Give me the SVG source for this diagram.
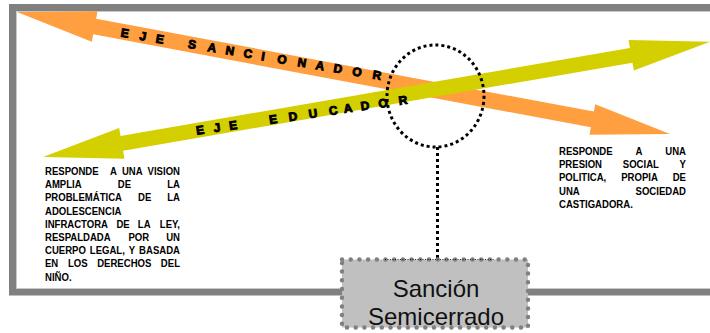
<svg xmlns="http://www.w3.org/2000/svg" width="710" height="333" viewBox="0 0 710 333">
<style>
.frame{fill:none;stroke:#808080;stroke-width:7}
.inner{fill:none;stroke:#c8c8c8;stroke-width:1}
.ax{font-family:"Liberation Sans",Arial,sans-serif;font-weight:bold;font-size:12px;fill:#000;stroke:#000;stroke-width:0.9;text-anchor:middle}
.bt{font-family:"Liberation Sans",Arial,sans-serif;font-weight:bold;font-size:10.4px;fill:#000}
.bx{font-family:"Liberation Sans",Arial,sans-serif;font-size:24px;fill:#111;text-anchor:middle}
.dot{fill:none;stroke:#000;stroke-width:3;stroke-dasharray:3 3}
</style>
<rect width="710" height="333" fill="#fff"/>
<g id="frame">
<path class="frame" d="M710 7.5H12.5V292H342M528 292H710"/>
<path class="inner" d="M710 11.5H16.5V288.5H342M528 288.5H710"/>
</g>
<g id="eje-sancionador">
<polygon transform="translate(17,12) rotate(10.58)" fill="#ff9f3f" points="0,0 79,-15.5 79,-8 585.3,-8 585.3,-15.5 664.3,0 585.3,15.5 585.3,8 79,8 79,15.5"/>
<text class="ax" transform="translate(125,33) rotate(9.46)" y="4.3" x="0 18.2 35.5 51.7 68 88.2 106.5 124.7 139.9 159.2 179.5 197.7 216 235.2 255.5">EJE SANCIONADOR</text>
</g>
<g id="eje-educador">
<polygon transform="translate(43,157) rotate(-9.81)" fill="#d4cf00" points="0,0 80,-15.5 80,-7.5 596.9,-7.5 596.9,-15.5 676.9,0 596.9,15.5 596.9,7.5 80,7.5 80,15.5"/>
<text class="ax" transform="translate(200,130) rotate(-8.4)" y="4.3" x="0 17.2 33.4 53.6 73.8 94 114.2 134.5 149.6 166.8 185 205.2">EJE EDUCADOR</text>
</g>
<g id="connectors">
<ellipse class="dot" cx="435.5" cy="96" rx="48.5" ry="51"/>
<line class="dot" x1="437.5" y1="147" x2="437.5" y2="259"/>
</g>
<g id="texto-educador" transform="scale(0.92 1)">
<text class="bt" y="175"><tspan x="48.91">RESPONDE</tspan><tspan x="119.57">A</tspan><tspan x="132.5">UNA</tspan><tspan x="195.65" text-anchor="end">VISION</tspan></text>
<text class="bt" y="188.2"><tspan x="48.91">AMPLIA</tspan><tspan x="128.04">DE</tspan><tspan x="195.65" text-anchor="end">LA</tspan></text>
<text class="bt" y="201.4"><tspan x="48.91">PROBLEMÁTICA</tspan><tspan x="150">DE</tspan><tspan x="195.65" text-anchor="end">LA</tspan></text>
<text class="bt" y="214.6" x="48.91">ADOLESCENCIA</text>
<text class="bt" y="227.8"><tspan x="48.91">INFRACTORA</tspan><tspan x="126.52">DE</tspan><tspan x="149.78">LA</tspan><tspan x="195.65" text-anchor="end">LEY,</tspan></text>
<text class="bt" y="241"><tspan x="48.91">RESPALDADA</tspan><tspan x="139.67">POR</tspan><tspan x="195.65" text-anchor="end">UN</tspan></text>
<text class="bt" y="254.2"><tspan x="48.91">CUERPO</tspan><tspan x="97.61">LEGAL,</tspan><tspan x="140">Y</tspan><tspan x="195.65" text-anchor="end">BASADA</tspan></text>
<text class="bt" y="267.4"><tspan x="48.91">EN</tspan><tspan x="73.8">LOS</tspan><tspan x="105.65">DERECHOS</tspan><tspan x="195.65" text-anchor="end">DEL</tspan></text>
<text class="bt" y="280.6" x="48.91">NIÑO.</text>
</g>
<g id="texto-sancionador" transform="scale(0.92 1)">
<text class="bt" y="155"><tspan x="607.61">RESPONDE</tspan><tspan x="690.87">A</tspan><tspan x="745.65" text-anchor="end">UNA</tspan></text>
<text class="bt" y="168.2"><tspan x="607.61">PRESION</tspan><tspan x="676.96">SOCIAL</tspan><tspan x="745.65" text-anchor="end">Y</tspan></text>
<text class="bt" y="181.4"><tspan x="607.61">POLITICA,</tspan><tspan x="675.22">PROPIA</tspan><tspan x="745.65" text-anchor="end">DE</tspan></text>
<text class="bt" y="194.6"><tspan x="607.61">UNA</tspan><tspan x="745.65" text-anchor="end">SOCIEDAD</tspan></text>
<text class="bt" y="207.8" x="607.61">CASTIGADORA.</text>
</g>
<g id="sancion-semicerrado">
<rect x="342" y="259.5" width="186" height="68" fill="#c0c0c0" stroke="#808080" stroke-width="4.5" stroke-dasharray="0 8.7" stroke-linecap="round"/>
<line x1="385" y1="259.5" x2="495" y2="259.5" stroke="#000" stroke-width="0.8" stroke-dasharray="1 1.5"/>
<text class="bx" x="436" y="297">Sanción</text>
<text class="bx" x="436" y="325">Semicerrado</text>
</g>
</svg>
